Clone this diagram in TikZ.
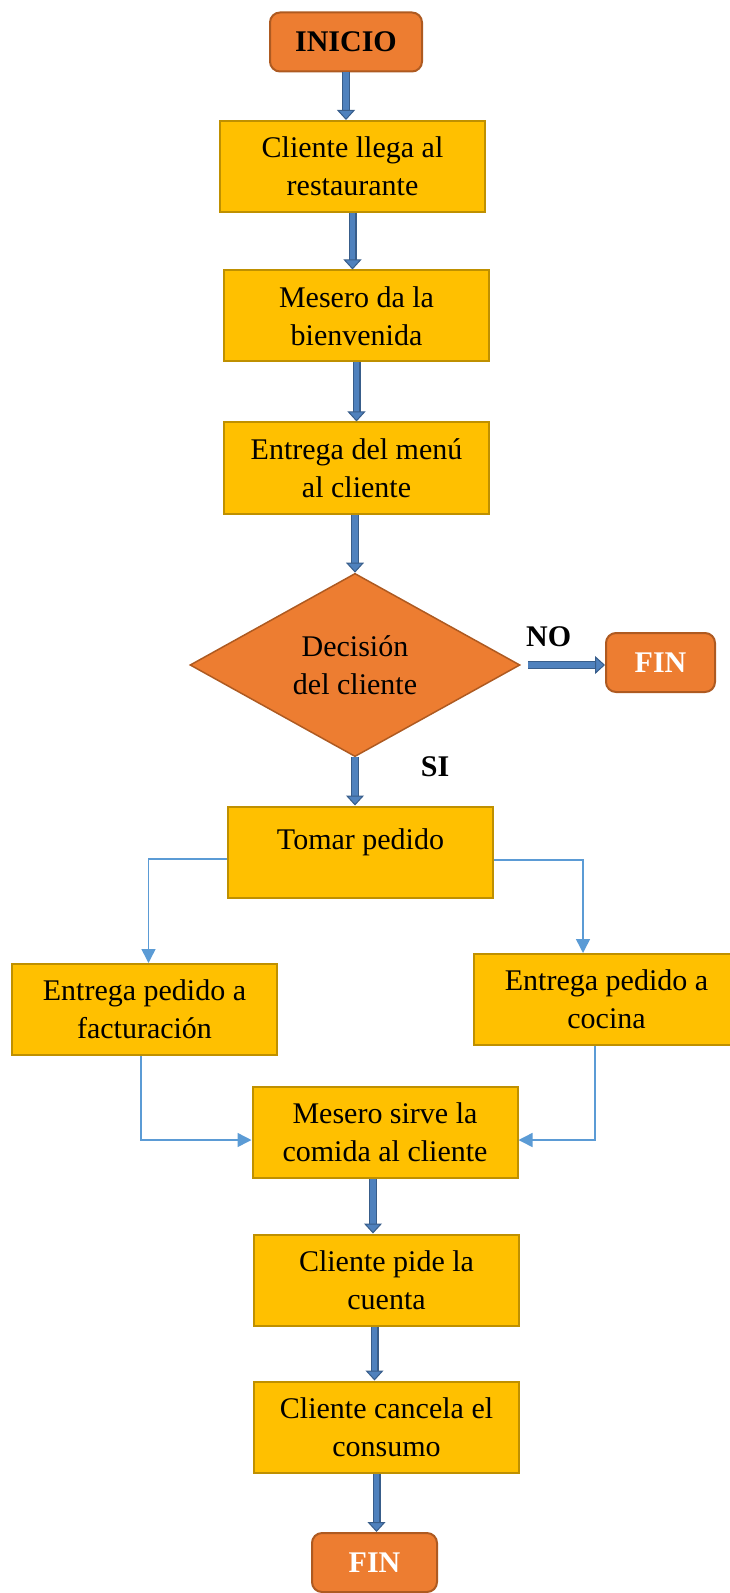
\documentclass[tikz,border=0pt]{standalone}
\usepackage{fontspec}
\setmainfont{Liberation Serif}
\usetikzlibrary{arrows.meta,positioning,shapes.geometric,calc}
\definecolor{pYellow}{RGB}{255,192,0}
\definecolor{pYellowEdge}{RGB}{191,144,0}
\definecolor{pOrange}{RGB}{237,125,49}
\definecolor{pOrangeEdge}{RGB}{174,90,33}
\definecolor{pBlue}{RGB}{79,129,189}
\definecolor{pBlueEdge}{RGB}{56,93,138}
\definecolor{pLine}{RGB}{91,155,213}

\begin{document}
\begin{tikzpicture}[x=0.5pt,y=-0.5pt,
	font=\fontsize{15}{19}\selectfont,
	proc/.style={
		draw=pYellowEdge, fill=pYellow, line width=1pt,
		minimum width=132.5pt, minimum height=45.5pt, align=center, inner sep=0pt
	},
	term/.style={
		draw=pOrangeEdge, fill=pOrange, line width=1pt, rounded corners=5pt,
		minimum height=29.5pt, font=\fontsize{15}{19}\selectfont\bfseries, inner sep=0pt
	},
	cond/.style={
		diamond, draw=pOrangeEdge, fill=pOrange, line width=0.75pt,
		minimum width=165pt, minimum height=86pt, align=center, inner sep=0pt
	},
	bigarrow/.style={
		draw=pBlueEdge, double=pBlue, double distance=2.6pt, line width=0.7pt,
		-{Triangle[width=9pt,length=5pt,fill=pBlue,line width=0.5pt]}
	},
	thinarrow/.style={draw=pLine, line width=0.75pt, -{Triangle[width=7pt,length=7pt]}},
	lbl/.style={font=\fontsize{15}{19}\selectfont\bfseries}
	]
	\useasboundingbox (0,0) rectangle (729,1593);

	\node[term, minimum width=76pt] (inicio) at (346,42) {INICIO};
	\node[proc] (llega) at (352.5,166.5) {Cliente llega al\\restaurante};
	\node[proc] (bienv) at (356.5,316) {Mesero da la\\bienvenida};
	\node[proc] (menu) at (356.5,468) {Entrega del menú\\al cliente};
	\node[cond] (decision) at (355,665) {Decisión\\del cliente};
	\node[term, minimum width=54.5pt, text=white] (finr) at (660.5,662.5) {FIN};
	\node[proc] (tomar) at (360.5,852) {Tomar pedido\\[-6pt]\mbox{}};
	\node[proc] (fact) at (144.5,1009.5) {Entrega pedido a\\facturación};
	\node[proc] (cocina) at (606.5,999.5) {Entrega pedido a\\cocina};
	\node[proc] (sirve) at (385,1132.5) {Mesero sirve la\\comida al cliente};
	\node[proc] (cuenta) at (386.5,1280) {Cliente pide la\\cuenta};
	\node[proc] (cancela) at (386.5,1427) {Cliente cancela el\\consumo};
	\node[term, minimum width=62.5pt, text=white] (finb) at (374.5,1562.5) {FIN};

	% flujo principal
	\draw[bigarrow] (inicio) -- (inicio |- llega.north);
	\draw[bigarrow] (llega) -- (llega |- bienv.north);
	\draw[bigarrow] (bienv) -- (bienv |- menu.north);
	\draw[bigarrow] (decision.north |- menu.south) -- (decision.north);
	\draw[bigarrow] ([xshift=3.5pt]decision.east) -- (decision.east -| finr.west)
		node[lbl, pos=0.27, yshift=14pt] {NO};
	\draw[bigarrow] (decision.south) -- (decision.south |- tomar.north)
		node[lbl, pos=0.2, xshift=40pt] {SI};
	\draw[bigarrow] ([xshift=-6pt]sirve.south) -- ([xshift=-6pt]sirve.south |- cuenta.north);
	\draw[bigarrow] ([xshift=-6pt]cuenta.south) -- ([xshift=-6pt]cuenta.south |- cancela.north);
	\draw[bigarrow] ([xshift=-5pt]cancela.south) -- ([xshift=-5pt]cancela.south |- finb.north);

	% ramas del pedido
	\draw[thinarrow] ([yshift=-3.5pt]tomar.west) -| ([xshift=2pt]fact.north);
	\draw[thinarrow] ([yshift=-4pt]tomar.east) -| ([xshift=-11.75pt]cocina.north);
	\draw[thinarrow] ([xshift=-1.75pt]fact.south) |- ([yshift=-3.75pt]sirve.west);
	\draw[thinarrow] ([xshift=-5.75pt]cocina.south) |- ([yshift=-3.75pt]sirve.east);
\end{tikzpicture}
\end{document}
